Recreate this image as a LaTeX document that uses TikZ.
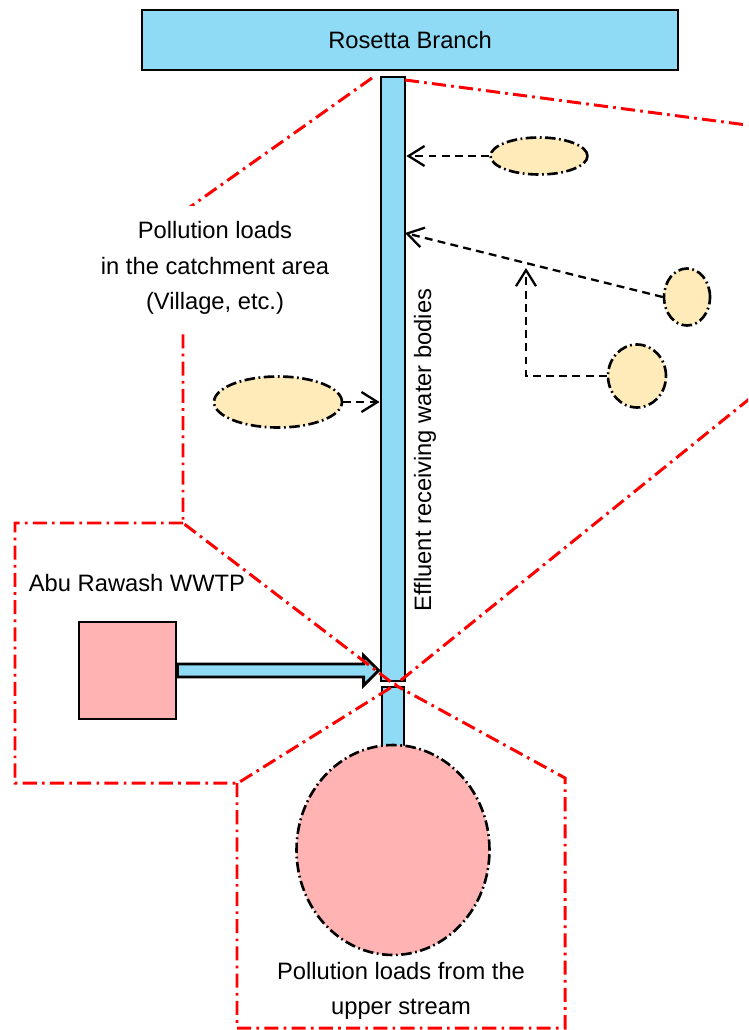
\documentclass[tikz,border=0pt]{standalone}
\usepackage{fontspec}
\setmainfont{Liberation Sans}
\usepackage{xcolor}
\usepackage{tikz}
\usetikzlibrary{shapes.geometric, arrows.meta, positioning, calc}
\definecolor{river}{RGB}{143,219,245}
\definecolor{loadpink}{RGB}{255,179,179}
\definecolor{loadcream}{RGB}{255,235,185}
\tikzset{
  channel/.style={rectangle, draw=black, line width=1.6pt, fill=river, inner sep=0pt, font=\fontsize{13.5}{20}\selectfont},
  plant/.style={rectangle, draw=black, line width=1.6pt, fill=loadpink, inner sep=0pt},
  source/.style={ellipse, draw=black, fill=loadcream, line width=1.5pt, dash pattern=on 6pt off 2pt on 1pt off 2pt, inner sep=0pt},
  zone/.style={draw=red, line width=1.7pt, dash pattern=on 8pt off 3pt on 1.5pt off 3pt},
  flow/.style={-{Straight Barb[length=3.2mm, width=4mm, line width=1.3pt]}, line width=1.3pt, dash pattern=on 4.5pt off 3pt},
  lbl/.style={font=\fontsize{13.5}{20}\selectfont, align=center},
}

\begin{document}
\begin{tikzpicture}[x=0.02cm, y=-0.02cm]
\useasboundingbox (0,0) rectangle (748,1030);

% river and channel
\node[channel, minimum width=10.72cm, minimum height=1.2cm] (rosetta) at (410,40) {Rosetta Branch};
\node[channel, minimum width=0.48cm, minimum height=12.08cm] (chan) at (393,379) {};
\node[channel, minimum width=0.44cm, minimum height=1.2cm] (chanlow) at (393,717) {};
\node[lbl, rotate=90] (chanlbl) at (425,450) {Effluent receiving water bodies};

% sources
\node[source, minimum width=2.56cm, minimum height=1.02cm] (village) at (278,402) {};
\node[source, minimum width=1.94cm, minimum height=0.74cm] (srca) at (539,156) {};
\node[source, minimum width=0.92cm, minimum height=1.14cm] (srcb) at (687,297) {};
\node[source, minimum width=1.16cm, minimum height=1.26cm] (srcc) at (637,376) {};
\node[source, fill=loadpink, minimum width=3.86cm, minimum height=4.2cm] (upper) at (393,850) {};
\node[lbl] (upperlbl) at (401,991) {Pollution loads from the\\upper stream};
\node[plant, minimum size=1.94cm] (wwtp) at (127.5,670.5) {};
\node[lbl] (wwtplbl) at (137,583) {Abu Rawash WWTP};

\coordinate (inb) at (405,233);
\coordinate (join) at (526,268);
\draw[flow] (srca.west) -- (srca.west -| chan.east);
\draw[flow] (srcb.west) -- (inb);
\draw[flow] (srcc.west) -| (join);
\draw[flow] (village.east) -- (village.east -| chan.west);

% effluent discharge
\coordinate (tip) at (chan.west |- wwtp.east);
\draw[line width=1.6pt, fill=river, line join=miter]
  ($(wwtp.east)+(0,-6.5)$) -- ($(tip)+(-16,-6.5)$) -- ($(tip)+(-16,-15)$) -- ($(tip)+(-1,0)$)
  -- ($(tip)+(-16,15)$) -- ($(tip)+(-16,6.5)$) -- ($(wwtp.east)+(0,6.5)$) -- cycle;

% zone outlines (shared edges drawn once)
\begin{scope}
\clip (0,0) rectangle (748,1030);
\draw[zone] (372,78) -- (183,212) -- (183,523) -- (395,685) -- (800,358);
\draw[zone] (405,80) -- (800,132);
\draw[zone] (183,523) -- (15,523) -- (15,783) -- (238,783) -- (395,685);
\draw[zone] (237,783) -- (237,1028) -- (565,1028) -- (565,778) -- (395,685);
\end{scope}
\node[lbl, fill=white, minimum width=5cm, minimum height=2.5cm] (catch) at (215,268) {Pollution loads\\in the catchment area\\(Village, etc.)};
\end{tikzpicture}
\end{document}
